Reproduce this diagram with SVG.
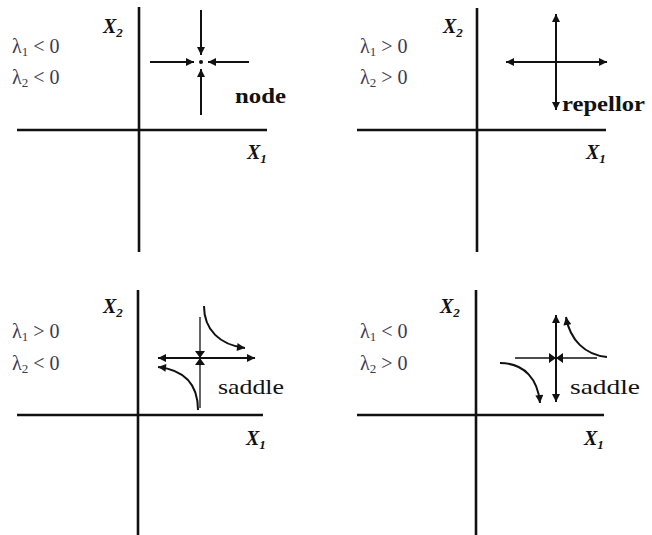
<svg xmlns="http://www.w3.org/2000/svg" width="652" height="535" viewBox="0 0 652 535">
<style>
.axis{stroke:#111;stroke-width:2.6;fill:none}
.arr{stroke:#111;stroke-width:2;fill:none}
.thin{stroke:#111;stroke-width:1.3;fill:none}
.ax{font-family:"Liberation Serif",serif;font-weight:bold;font-style:italic;font-size:20px;fill:#111}
.sub{font-size:13px}
.lam{font-family:"Liberation Serif",serif;font-size:20px;fill:#3a3a50}
.lbl{font-family:"Liberation Serif",serif;font-size:21px;font-weight:bold;fill:#111}
.reg{font-weight:normal;font-size:22px}
</style>
<defs>
<marker id="ah" viewBox="0 0 10 10" refX="10" refY="5" markerWidth="9" markerHeight="8" orient="auto-start-reverse" markerUnits="userSpaceOnUse">
<path d="M0,0 L10,5 L0,10 z" fill="#111"/>
</marker>
</defs>
<g id="axes">
<line class="axis" x1="139" y1="7" x2="139" y2="252"/>
<line class="axis" x1="17" y1="130" x2="267" y2="130"/>
<line class="axis" x1="477" y1="8" x2="477" y2="252"/>
<line class="axis" x1="357" y1="130" x2="606" y2="130"/>
<line class="axis" x1="138" y1="290" x2="138" y2="535"/>
<line class="axis" x1="17" y1="415" x2="263" y2="415"/>
<line class="axis" x1="476" y1="290" x2="476" y2="535"/>
<line class="axis" x1="357" y1="415" x2="604" y2="415"/>
</g>
<g id="labels">
<text class="ax" x="103" y="33">X<tspan class="sub" dy="4">2</tspan></text>
<text class="ax" x="247" y="159">X<tspan class="sub" dy="4">1</tspan></text>
<text class="ax" x="443" y="33">X<tspan class="sub" dy="4">2</tspan></text>
<text class="ax" x="586" y="159">X<tspan class="sub" dy="4">1</tspan></text>
<text class="ax" x="103" y="313">X<tspan class="sub" dy="4">2</tspan></text>
<text class="ax" x="246" y="445">X<tspan class="sub" dy="4">1</tspan></text>
<text class="ax" x="440" y="313">X<tspan class="sub" dy="4">2</tspan></text>
<text class="ax" x="584" y="445">X<tspan class="sub" dy="4">1</tspan></text>
<text class="lam" x="12" y="53">λ<tspan class="sub" dy="3">1</tspan><tspan dy="-3"> &lt; 0</tspan></text>
<text class="lam" x="12" y="84">λ<tspan class="sub" dy="3">2</tspan><tspan dy="-3"> &lt; 0</tspan></text>
<text class="lam" x="360" y="53">λ<tspan class="sub" dy="3">1</tspan><tspan dy="-3"> &gt; 0</tspan></text>
<text class="lam" x="360" y="84">λ<tspan class="sub" dy="3">2</tspan><tspan dy="-3"> &gt; 0</tspan></text>
<text class="lam" x="12" y="338">λ<tspan class="sub" dy="3">1</tspan><tspan dy="-3"> &gt; 0</tspan></text>
<text class="lam" x="12" y="370">λ<tspan class="sub" dy="3">2</tspan><tspan dy="-3"> &lt; 0</tspan></text>
<text class="lam" x="360" y="338">λ<tspan class="sub" dy="3">1</tspan><tspan dy="-3"> &lt; 0</tspan></text>
<text class="lam" x="360" y="370">λ<tspan class="sub" dy="3">2</tspan><tspan dy="-3"> &gt; 0</tspan></text>
</g>
<g id="node">
<line class="arr" x1="201" y1="10" x2="201" y2="55" marker-end="url(#ah)"/>
<line class="arr" x1="201" y1="115" x2="201" y2="69" marker-end="url(#ah)"/>
<line class="arr" x1="150" y1="62" x2="194" y2="62" marker-end="url(#ah)"/>
<line class="arr" x1="249" y1="62" x2="208" y2="62" marker-end="url(#ah)"/>
<circle cx="201" cy="62" r="2" fill="#111"/>
<text class="lbl" x="235" y="103" textLength="51" lengthAdjust="spacingAndGlyphs">node</text>
</g>
<g id="repellor">
<line class="arr" x1="556" y1="14" x2="556" y2="110" marker-start="url(#ah)" marker-end="url(#ah)"/>
<line class="arr" x1="506" y1="62" x2="607" y2="62" marker-start="url(#ah)" marker-end="url(#ah)"/>
<text class="lbl" x="562" y="111" textLength="83" lengthAdjust="spacingAndGlyphs">repellor</text>
</g>
<g id="saddle1">
<line class="arr" x1="158" y1="358" x2="255" y2="358" stroke-width="2.6" marker-start="url(#ah)" marker-end="url(#ah)"/>
<line class="thin" x1="200" y1="317" x2="200" y2="408"/>
<path d="M195,351 L205,351 L200,358 Z M195,365 L205,365 L200,358 Z" fill="#111"/>
<path class="arr" d="M204,306 C204,330 220,345 245,348" marker-end="url(#ah)"/>
<path class="arr" d="M198,410 C198,385 185,370 158,367" marker-end="url(#ah)"/>
<text class="lbl reg" x="218" y="394" textLength="66" lengthAdjust="spacingAndGlyphs">saddle</text>
</g>
<g id="saddle2">
<line class="arr" x1="556" y1="315" x2="556" y2="402" stroke-width="2.6" marker-start="url(#ah)" marker-end="url(#ah)"/>
<line class="thin" x1="515" y1="358" x2="597" y2="358"/>
<path d="M549,353 L549,363 L556,358 Z M563,353 L563,363 L556,358 Z" fill="#111"/>
<path class="arr" d="M607,357 C585,355 570,340 566,317" marker-end="url(#ah)"/>
<path class="arr" d="M500,363 C525,363 538,380 540,403" marker-end="url(#ah)"/>
<text class="lbl reg" x="570" y="394" textLength="70" lengthAdjust="spacingAndGlyphs">saddle</text>
</g>
</svg>
